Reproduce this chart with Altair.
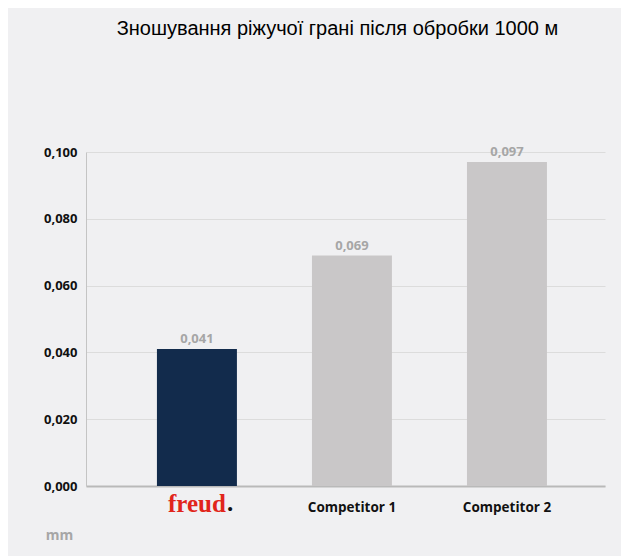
import altair as alt
import pandas as pd

categories = ["freud", "Competitor 1", "Competitor 2"]
values = [0.041, 0.069, 0.097]
bar_colors = ["#122b4c", "#c9c7c8", "#c9c7c8"]
y_ticks = [0.0, 0.02, 0.04, 0.06, 0.08, 0.1]
title_text = "Зношування ріжучої грані після обробки 1000 м"
unit_text = "mm"

df = pd.DataFrame({"cat": categories, "value": values})

x_enc = alt.X(
    "cat:N",
    sort=categories,
    scale=alt.Scale(paddingInner=0.484, paddingOuter=0.416, align=0.55),
    axis=alt.Axis(
        title=None, ticks=False, grid=False,
        domainColor="#b9b9b9", domainWidth=2,
        labelAngle=0, labelBaseline="alphabetic", labelPadding=25,
        labelColor={"expr": "datum.label == 'freud' ? '#e1251b' : '#111111'"},
        labelFont={"expr": "datum.label == 'freud' ? 'Liberation Serif' : 'Open Sans'"},
        labelFontSize={"expr": "datum.label == 'freud' ? 25 : 13.5"},
        labelFontWeight="bold",
    ),
)

y_enc = alt.Y(
    "value:Q",
    scale=alt.Scale(domain=[0, 0.1]),
    axis=alt.Axis(
        values=y_ticks,
        labelExpr="replace(format(datum.value, '.3f'), '.', ',')",
        ticks=False, domainColor="#c4c4c4", gridColor="#dcdcdc",
        labelFont="Open Sans", labelFontWeight="bold", labelFontSize=13,
        labelColor="#111111", labelPadding=9,
        title=unit_text, titleAngle=0, titleX=-27, titleY=383,
        titleAlign="center", titleBaseline="middle",
        titleColor="#a6a6a6", titleFontSize=14, titleFont="Open Sans",
        titleFontWeight="bold",
    ),
)

base = alt.Chart(df)

bars = base.mark_bar().encode(
    x=x_enc,
    y=y_enc,
    color=alt.Color("cat:N", scale=alt.Scale(domain=categories, range=bar_colors), legend=None),
)

labels = base.transform_calculate(
    lbl="replace(format(datum.value, '.3f'), '.', ',')"
).mark_text(
    dy=-3, baseline="bottom", color="#a6a6a6", font="Open Sans",
    fontSize=13, fontWeight="bold",
).encode(
    x=alt.X("cat:N", sort=categories),
    y="value:Q",
    text="lbl:N",
)

dot = alt.Chart(pd.DataFrame({"cat": ["freud"], "t": ["."]})).mark_text(
    font="Liberation Serif", fontSize=25, fontWeight="bold", color="#111111",
    dx=30, align="left", baseline="alphabetic",
).encode(
    x=alt.X("cat:N", sort=categories),
    y=alt.value(334 + 25),
    text="t:N",
)

chart = alt.layer(bars, labels, dot).properties(
    width=519,
    height=334,
    autosize=alt.AutoSizeParams(type="none"),
    padding={"left": 78, "top": 144, "right": 16, "bottom": 70},
    background="#f0f0f2",
    title=alt.TitleParams(
        title_text, font="Liberation Sans", fontSize=20, fontWeight="normal",
        color="#000000", anchor="middle", frame="group", offset=107, dx=-8,
    ),
).configure_view(stroke=None)

chart.save("out.html", embed_options={"renderer": "svg", "actions": False})
